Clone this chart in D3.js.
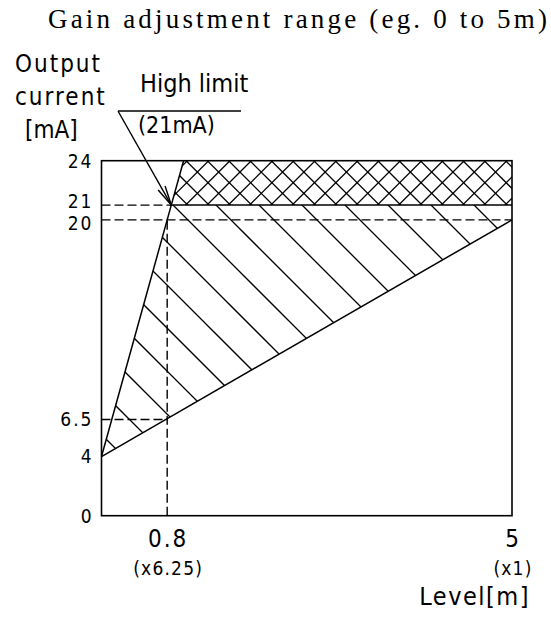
<!DOCTYPE html>
<html>
<head>
<meta charset="utf-8">
<script src="https://cdn.jsdelivr.net/npm/d3@7"></script>
<style>
  body { margin: 0; background: #fff; }
  .cad { font-family: "DejaVu Sans Condensed", "DejaVu Sans", sans-serif; font-stretch: condensed; fill: #000; }
  .title { font-family: "Liberation Serif", "DejaVu Serif", serif; font-size: 27px; fill: #000; }
</style>
</head>
<body>
<svg></svg>
<script>
// Data
const yTicks = [0, 4, 6.5, 20, 21, 24];
const yTickLabels = ["0", "4", "6.5", "20", "21", "24"];
const xTicks = [0.8, 5];
const xTickLabels = ["0.8", "5"];
const xTickNotes = ["(x6.25)", "(x1)"];
const lowLine = [[0, 4], [5, 20]];          // gain x1 : 0..5m -> 4..20mA
const gainLine = [[0, 4], [0.8, 20], [1, 24]]; // gain x6.25 : 0..0.8m -> 4..20mA
const highLimit = 21;
const highCross = 0.85;                      // where gain line hits 21mA
const dashedGuides = [
  [[0, 21], [highCross, 21]],
  [[0, 20], [5, 20]],
  [[0, 6.5], [0.8, 6.5]],
  [[0.8, 0], [0.8, 20]]
];
const hatchArea = [[0, 4], [highCross, 21], [5, 21], [5, 20]];
const crossArea = [[highCross, 21], [1, 24], [5, 24], [5, 21]];

// Dimensions
const width = 551, height = 621;
const plot = { left: 101.5, right: 512, top: 160.7, bottom: 515.7 };

const svg = d3.select("svg").attr("width", width).attr("height", height);

// Scales
const xScale = d3.scaleLinear().domain([0, 5]).range([plot.left, plot.right]);
const yScale = d3.scaleLinear().domain([0, 24]).range([plot.bottom, plot.top]);
const line = d3.line().x(d => xScale(d[0])).y(d => yScale(d[1]));

const defs = svg.append("defs");

// Hatching: 45deg lines clipped to an area
const drawHatch = (id, area, families) => {
  defs.append("clipPath").attr("id", id)
    .append("path").attr("d", line(area) + "Z");
  const hg = svg.append("g").attr("clip-path", `url(#${id})`);
  const y0 = plot.top - 10, y1 = plot.bottom + 10;
  families.forEach(f => {
    // f.dir = 1 : x - y = c, f.dir = -1 : x + y = c
    const cs = d3.range(-60, 60).map(k => f.phase + k * f.step);
    hg.selectAll(null)
      .data(cs)
      .enter().append("line")
      .attr("x1", c => c + f.dir * y0)
      .attr("y1", y0)
      .attr("x2", c => c + f.dir * y1)
      .attr("y2", y1)
      .attr("stroke", "#000")
      .attr("stroke-width", 1.3);
  });
};

drawHatch("hatch1", hatchArea, [{ dir: 1, phase: -75, step: 43 }]);
drawHatch("hatch2", crossArea, [
  { dir: 1, phase: -17.3, step: 21.3 },
  { dir: -1, phase: 390.7, step: 21.3 }
]);

// Frame
svg.append("rect")
  .attr("x", plot.left).attr("y", plot.top)
  .attr("width", plot.right - plot.left).attr("height", plot.bottom - plot.top)
  .attr("fill", "none").attr("stroke", "#000").attr("stroke-width", 1.6);

// Dashed guides
svg.append("g").selectAll("path")
  .data(dashedGuides)
  .enter().append("path")
  .attr("d", line)
  .attr("fill", "none")
  .attr("stroke", "#000")
  .attr("stroke-width", 1.4)
  .attr("stroke-dasharray", "9,4");

// High limit solid line
svg.append("path")
  .attr("d", line([[highCross, highLimit], [5, highLimit]]))
  .attr("fill", "none").attr("stroke", "#000").attr("stroke-width", 1.5);

// Output lines
[lowLine, gainLine].forEach(d => {
  svg.append("path")
    .attr("d", line(d))
    .attr("fill", "none").attr("stroke", "#000").attr("stroke-width", 1.5);
});

// Y tick labels (21 and 20 nudged apart so they don't collide)
const nudge = d => d === 21 ? -3.5 : d === 20 ? 3.5 : 0;
svg.append("g").selectAll("text")
  .data(yTicks)
  .enter().append("text")
  .attr("class", "cad")
  .attr("x", plot.left - 8)
  .attr("y", d => yScale(d) + nudge(d))
  .attr("dy", "0.36em")
  .attr("text-anchor", "end")
  .style("font-size", "19px")
  .style("letter-spacing", "2px")
  .text((d, i) => yTickLabels[i]);

// X tick labels
svg.append("g").selectAll("text")
  .data(xTicks)
  .enter().append("text")
  .attr("class", "cad")
  .attr("x", d => xScale(d) + 1)
  .attr("y", plot.bottom + 31)
  .attr("text-anchor", "middle")
  .style("font-size", "24px")
  .style("letter-spacing", "2px")
  .text((d, i) => xTickLabels[i]);

svg.append("g").selectAll("text")
  .data(xTicks)
  .enter().append("text")
  .attr("class", "cad")
  .attr("x", d => xScale(d) + 1)
  .attr("y", plot.bottom + 59)
  .attr("text-anchor", "middle")
  .style("font-size", "19px")
  .style("letter-spacing", "1.2px")
  .text((d, i) => xTickNotes[i]);

// Axis titles
const yTitle = ["Output", "current"];
svg.append("g").selectAll("text")
  .data(yTitle)
  .enter().append("text")
  .attr("class", "cad")
  .attr("x", 15)
  .attr("y", (d, i) => 72 + i * 33)
  .style("font-size", "24px")
  .style("letter-spacing", "2px")
  .text(d => d);
svg.append("text").attr("class", "cad").attr("x", 25).attr("y", 138)
  .style("font-size", "24px").text("[mA]");
svg.append("text").attr("class", "cad").attr("x", 530).attr("y", 605)
  .attr("text-anchor", "end")
  .style("font-size", "25px")
  .style("letter-spacing", "1.5px")
  .text("Level[m]");

// Title
svg.append("text").attr("class", "title").attr("x", 48).attr("y", 28)
  .attr("textLength", 499).attr("lengthAdjust", "spacing")
  .text("Gain adjustment range (eg. 0 to 5m)");

// High limit callout
const tip = [xScale(highCross), yScale(highLimit)];
const start = [118, 111];
svg.append("line")
  .attr("x1", start[0]).attr("y1", start[1])
  .attr("x2", 241).attr("y2", start[1])
  .attr("stroke", "#000").attr("stroke-width", 1.4);
svg.append("line")
  .attr("x1", start[0]).attr("y1", start[1])
  .attr("x2", tip[0]).attr("y2", tip[1])
  .attr("stroke", "#000").attr("stroke-width", 1.4);
const ang = Math.atan2(tip[1] - start[1], tip[0] - start[0]);
const headLen = 20, headAng = 0.2;
svg.append("path")
  .attr("d", `M${tip[0] - headLen * Math.cos(ang - headAng)},${tip[1] - headLen * Math.sin(ang - headAng)}
    L${tip[0]},${tip[1]}
    L${tip[0] - headLen * Math.cos(ang + headAng)},${tip[1] - headLen * Math.sin(ang + headAng)}`)
  .attr("fill", "none").attr("stroke", "#000").attr("stroke-width", 1.4);

svg.append("text").attr("class", "cad").attr("x", 140).attr("y", 92)
  .style("font-size", "25px").text("High limit");
svg.append("text").attr("class", "cad").attr("x", 138).attr("y", 133)
  .style("font-size", "23px").text("(21mA)");
</script>
</body>
</html>
